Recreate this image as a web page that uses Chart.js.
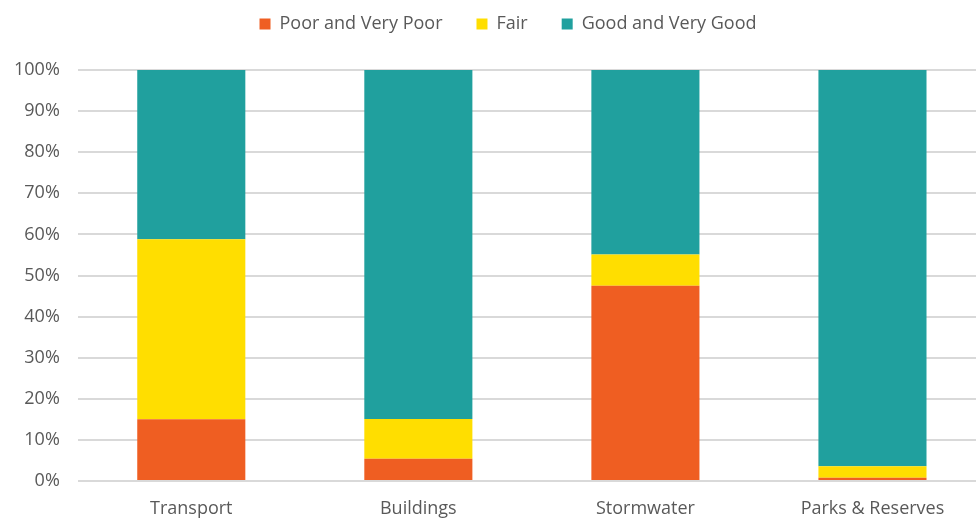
<!DOCTYPE html>
<html>
<head>
<meta charset="utf-8">
<script src="https://cdn.jsdelivr.net/npm/chart.js@4"></script>
<style>
  html, body { margin: 0; padding: 0; background: #fff; overflow: hidden; }
  #wrap { width: 986px; height: 519px; position: relative; }
</style>
</head>
<body>
<div id="wrap"><canvas id="assetChart"></canvas></div>
<script>
const categories = ['Transport', 'Buildings', 'Stormwater', 'Parks & Reserves'];
const poorValues = [15.0, 5.4, 47.5, 0.8];
const fairValues = [43.8, 9.7, 7.6, 2.8];
const goodValues = [41.2, 84.9, 44.9, 96.4];
const yTicks = [0, 10, 20, 30, 40, 50, 60, 70, 80, 90, 100];

// fixed gap under the legend, and nudge it a bit right
const legendSpacer = {
    id: 'legendSpacer',
    beforeInit(chart) {
        const fit = chart.legend.fit;
        chart.legend.fit = function() {
            fit.bind(chart.legend)();
            this.height = 89;
        };
    },
    afterLayout(chart) {
        chart.legend.left += 17;
        chart.legend.right += 17;
    }
};

document.addEventListener("DOMContentLoaded", function() {
    const ctx = document.getElementById('assetChart').getContext('2d');

    const assetChart = new Chart(ctx, {
        type: 'bar',
        data: {
            labels: categories,
            datasets: [
                { label: 'Poor and Very Poor', data: poorValues, backgroundColor: '#EF5E22' },
                { label: 'Fair', data: fairValues, backgroundColor: '#FFDE00' },
                { label: 'Good and Very Good', data: goodValues, backgroundColor: '#20A09E' },
            ],
        },
        plugins: [legendSpacer],
        options: {
            responsive: true,
            maintainAspectRatio: false,
            animation: false,
            layout: { padding: { left: -4, right: 0, top: -19, bottom: -18 } },
            datasets: {
                bar: { categoryPercentage: 1, barPercentage: 0.476 }
            },
            scales: {
                x: {
                    stacked: true,
                    grid: { display: false, drawTicks: false },
                    border: { display: false },
                    ticks: {
                        color: '#595959',
                        font: { family: 'Open Sans', size: 18, lineHeight: 1.0 },
                        padding: 19,
                    },
                },
                y: {
                    stacked: true,
                    min: 0,
                    max: 100,
                    afterBuildTicks: function(axis) {
                        axis.ticks = yTicks.map(v => ({ value: v }));
                    },
                    grid: { color: '#d9d9d9', lineWidth: 2, drawTicks: false },
                    border: { display: false },
                    ticks: {
                        color: '#595959',
                        font: { family: 'Open Sans', size: 18 },
                        padding: 18,
                        callback: v => v + '%',
                    },
                },
            },
            plugins: {
                legend: {
                    display: true,
                    position: 'top',
                    align: 'center',
                    labels: {
                        boxWidth: 11,
                        boxHeight: 11,
                        padding: 34,
                        color: '#595959',
                        font: { family: 'Open Sans', size: 18 },
                    },
                },
                tooltip: { enabled: false },
            },
        },
    });
});
</script>
</body>
</html>
